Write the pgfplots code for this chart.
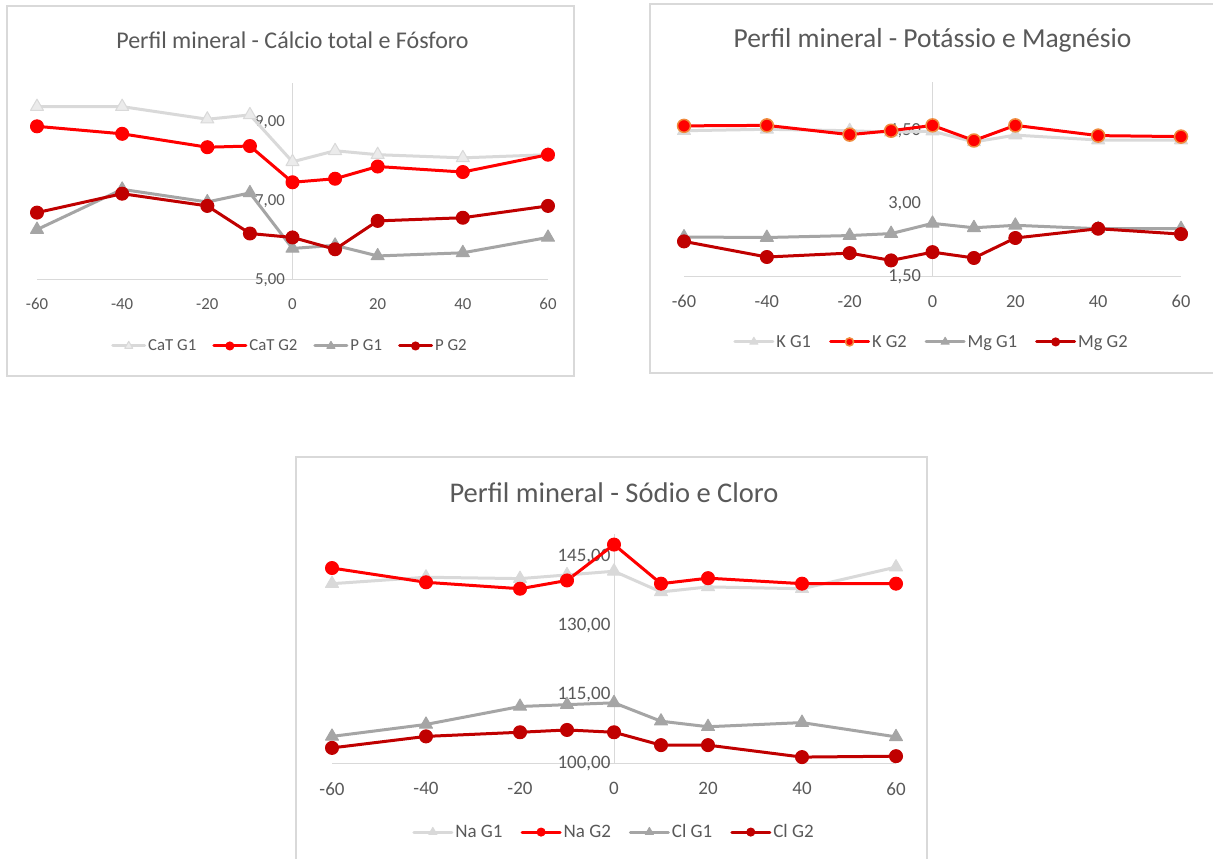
\documentclass[border=0pt]{standalone}
\usepackage{pgfplots}
\pgfplotsset{compat=1.18}
\usepackage{fontspec}
\setmainfont{Carlito}

\definecolor{lightline}{HTML}{D9D9D9}
\definecolor{lightfill}{HTML}{EBEBEB}
\definecolor{midgray}{HTML}{A5A5A5}
\definecolor{brightred}{HTML}{FF0000}
\definecolor{darkred}{HTML}{C00000}
\definecolor{ringorange}{HTML}{F08A3C}
\definecolor{txt}{HTML}{595959}
\definecolor{framegray}{HTML}{D9D9D9}

% #1 tick/legend font size, #2 title font size, #3 legend line length, #4 legend column gap
\pgfplotsset{
  mineral/.style n args={4}{
    scale only axis,
    clip=false,
    xmin=-60, xmax=60,
    axis x line*=bottom,
    axis y line*=center,
    hide obscured x ticks=false,
    hide obscured y ticks=false,
    axis line style={lightline, line width=1pt},
    major tick length=0pt,
    xtick={-60,-40,-20,0,20,40,60},
    /pgf/number format/assume math mode=true,
    tick label style={font=\fontsize{#1}{#1}\selectfont, text=txt},
    xticklabel style={yshift=-15pt},
    yticklabel style={/pgf/number format/fixed, /pgf/number format/fixed zerofill,
      /pgf/number format/precision=2, /pgf/number format/use comma},
    legend columns=4,
    legend cell align=left,
    legend style={draw=none, fill=none, anchor=center,
      font=\fontsize{#1}{#1}\selectfont, text=txt,
      /tikz/every even column/.append style={column sep=#4}},
    legend image code/.code={%
      \draw[mark repeat=2, mark phase=2, ##1, every mark/.append style={scale=0.62}]
        plot coordinates {(0pt,0pt) (#3/2,0pt) (#3,0pt)};},
    title style={font=\fontsize{#2}{#2}\selectfont, text=txt,
      at={(axis description cs:0.5,1)}, anchor=base, yshift=28pt},
  },
  base line/.style={line width=3pt, line join=round, line cap=round},
  g1 light/.style={base line, color=lightline, mark=triangle*, mark size=7.5pt,
    mark options={fill=lightfill, draw=lightline, line width=1pt}},
  g1 light solid/.style={base line, color=lightline, mark=triangle*, mark size=7.5pt,
    mark options={fill=lightline, draw=lightline, line width=1pt}},
  g2 red/.style={base line, color=brightred, mark=*, mark size=6.5pt,
    mark options={fill=brightred, draw=brightred, line width=1pt}},
  g2 red ring/.style={base line, color=brightred, mark=*, mark size=6.5pt,
    mark options={fill=brightred, draw=ringorange, line width=1.5pt}},
  g1 gray/.style={base line, color=midgray, mark=triangle*, mark size=7.5pt,
    mark options={fill=midgray, draw=midgray, line width=1pt}},
  g2 dark/.style={base line, color=darkred, mark=*, mark size=6.5pt,
    mark options={fill=darkred, draw=darkred, line width=1pt}},
}

\begin{document}
\begin{tikzpicture}
\path[use as bounding box] (0pt,0pt) rectangle (1213pt,859pt);
\fill[white] (0pt,0pt) rectangle (1213pt,859pt);

% chart frames
\draw[framegray, line width=1.4pt] (7pt,483pt) rectangle (574pt,853pt);
\draw[framegray, line width=1.4pt] (650pt,486pt) rectangle (1216pt,855pt);
\draw[framegray, line width=1.4pt] (296pt,-3pt) rectangle (927pt,402pt);

% Calcium and phosphorus
\begin{axis}[mineral={16.8}{24}{32pt}{14pt},
  at={(37pt,579pt)}, anchor=south west,
  width=511pt, height=197pt,
  ymin=5, ymax=10, ytick={5,7,9},
  yticklabel style={/tikz/xshift=-4pt},
  title={Perfil mineral - Cálcio total e Fósforo},
  legend style={at={(0.495,-0.335)}},
]
\addplot[g1 light] coordinates {(-60,9.40) (-40,9.40) (-20,9.08) (-10,9.19) (0,8.00) (10,8.28) (20,8.18) (40,8.10) (60,8.18)};
\addlegendentry{CaT G1}
\addplot[g2 red] coordinates {(-60,8.90) (-40,8.71) (-20,8.37) (-10,8.40) (0,7.48) (10,7.57) (20,7.88) (40,7.74) (60,8.18)};
\addlegendentry{CaT G2}
\addplot[g1 gray] coordinates {(-60,6.28) (-40,7.30) (-20,6.98) (-10,7.21) (0,5.80) (10,5.88) (20,5.61) (40,5.69) (60,6.08)};
\addlegendentry{P G1}
\addplot[g2 dark] coordinates {(-60,6.71) (-40,7.19) (-20,6.88) (-10,6.18) (0,6.08) (10,5.78) (20,6.50) (40,6.58) (60,6.88)};
\addlegendentry{P G2}
\end{axis}

% Potassium and magnesium
\begin{axis}[mineral={18.4}{27.5}{38pt}{16pt},
  at={(684pt,582pt)}, anchor=south west,
  width=497pt, height=195pt,
  ymin=1.5, ymax=5.5, ytick={1.5,3,4.5},
  yticklabel style={/tikz/xshift=-8pt},
  title={Perfil mineral - Potássio e Magnésio},
  legend style={at={(0.498,-0.333)}},
]
\addplot[g1 light solid] coordinates {(-60,4.50) (-40,4.53) (-20,4.50) (-10,4.47) (0,4.49) (10,4.27) (20,4.41) (40,4.31) (60,4.31)};
\addlegendentry{K G1}
\addplot[g2 red ring] coordinates {(-60,4.60) (-40,4.61) (-20,4.42) (-10,4.50) (0,4.61) (10,4.30) (20,4.61) (40,4.40) (60,4.38)};
\addlegendentry{K G2}
\addplot[g1 gray] coordinates {(-60,2.32) (-40,2.31) (-20,2.35) (-10,2.39) (0,2.60) (10,2.51) (20,2.56) (40,2.49) (60,2.49)};
\addlegendentry{Mg G1}
\addplot[g2 dark] coordinates {(-60,2.23) (-40,1.91) (-20,1.99) (-10,1.84) (0,2.01) (10,1.89) (20,2.30) (40,2.49) (60,2.38)};
\addlegendentry{Mg G2}
\end{axis}

% Sodium and chlorine
\begin{axis}[mineral={19}{28.5}{38pt}{16pt},
  at={(332pt,95pt)}, anchor=south west,
  width=564pt, height=230pt,
  ymin=100, ymax=150, ytick={100,115,130,145},
  title style={yshift=-3pt},
  title={Perfil mineral - Sódio e Cloro},
  legend style={at={(0.5,-0.296)}},
]
\addplot[g1 light solid] coordinates {(-60,139.2) (-40,140.6) (-20,140.3) (-10,141.1) (0,141.9) (10,137.4) (20,138.5) (40,138.1) (60,142.8)};
\addlegendentry{Na G1}
\addplot[g2 red] coordinates {(-60,142.6) (-40,139.5) (-20,138.1) (-10,139.9) (0,147.7) (10,139.2) (20,140.4) (40,139.2) (60,139.2)};
\addlegendentry{Na G2}
\addplot[g1 gray] coordinates {(-60,106.0) (-40,108.6) (-20,112.5) (-10,112.9) (0,113.3) (10,109.3) (20,108.1) (40,109.0) (60,105.9)};
\addlegendentry{Cl G1}
\addplot[g2 dark] coordinates {(-60,103.5) (-40,106.0) (-20,106.9) (-10,107.4) (0,106.9) (10,104.1) (20,104.1) (40,101.5) (60,101.7)};
\addlegendentry{Cl G2}
\end{axis}
\end{tikzpicture}
\end{document}
